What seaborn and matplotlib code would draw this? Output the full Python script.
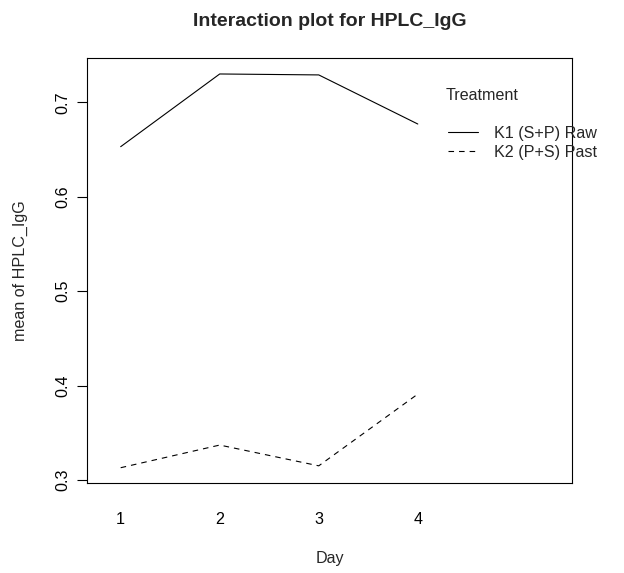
import pandas as pd
import seaborn as sns
import matplotlib.pyplot as plt

sns.set_style("white")
plt.rcParams['font.family'] = ['Liberation Sans', 'DejaVu Sans']

days = [1, 2, 3, 4]
treatments = ["K1 (S+P) Raw", "K2 (P+S) Past"]
k1_means = [0.653, 0.730, 0.729, 0.677]
k2_means = [0.313, 0.337, 0.315, 0.391]

df = pd.DataFrame({
    'Day': days * 2,
    'mean': k1_means + k2_means,
    'Treatment': [treatments[0]] * 4 + [treatments[1]] * 4,
})

FS = 11.6
W, H = 624, 573
fig = plt.figure(figsize=(W / 100, H / 100), dpi=100)
ax = fig.add_axes([87.3 / W, 1 - 483.3 / H, (572 - 87.3) / W, (483.3 - 58.3) / H])

sns.lineplot(data=df, x='Day', y='mean', hue='Treatment', style='Treatment',
             palette=['black', 'black'], dashes={treatments[0]: '', treatments[1]: (5, 4.5)},
             linewidth=0.8, ax=ax)

ax.set_xlim(0.663, 5.557)
ax.set_ylim(0.2965, 0.7466)
ax.set_xticks(days)
ax.set_xticklabels([str(d) for d in days])
ax.set_yticks([0.3, 0.4, 0.5, 0.6, 0.7])
ax.set_yticklabels(['0.3', '0.4', '0.5', '0.6', '0.7'])
for s in ax.spines.values():
    s.set_color('black')
    s.set_linewidth(0.8)
ax.tick_params(axis='y', left=True, length=7, width=0.8, pad=5, labelsize=FS, colors='black')
ax.tick_params(axis='x', bottom=False, length=0, pad=21, labelsize=FS, colors='black')
plt.setp(ax.get_yticklabels(), rotation=90, va='center')
ax.set_xlabel('')
ax.set_ylabel('')

fig.text(329.7 / W, 1 - 558 / H, 'Day', ha='center', va='center', fontsize=FS)
fig.text(20 / W, 1 - 271 / H, 'mean of HPLC_IgG', ha='center', va='center', rotation=90, fontsize=FS)
fig.text(329.7 / W, 1 - 22 / H, 'Interaction plot for HPLC_IgG', ha='center', va='center',
         fontsize=14, fontweight='bold')

# legend outside the axes box, like R's interaction.plot
fig.text(446 / W, 1 - 96 / H, 'Treatment', ha='left', va='center', fontsize=FS)
sns.move_legend(ax, 'upper left', bbox_to_anchor=(448 / W, 1 - 126 / H),
                bbox_transform=fig.transFigure, title=None, frameon=False,
                borderpad=0, borderaxespad=0, handlelength=1.86, handletextpad=1.0,
                labelspacing=0.25, fontsize=FS)

fig.savefig('out.png', dpi=100)
